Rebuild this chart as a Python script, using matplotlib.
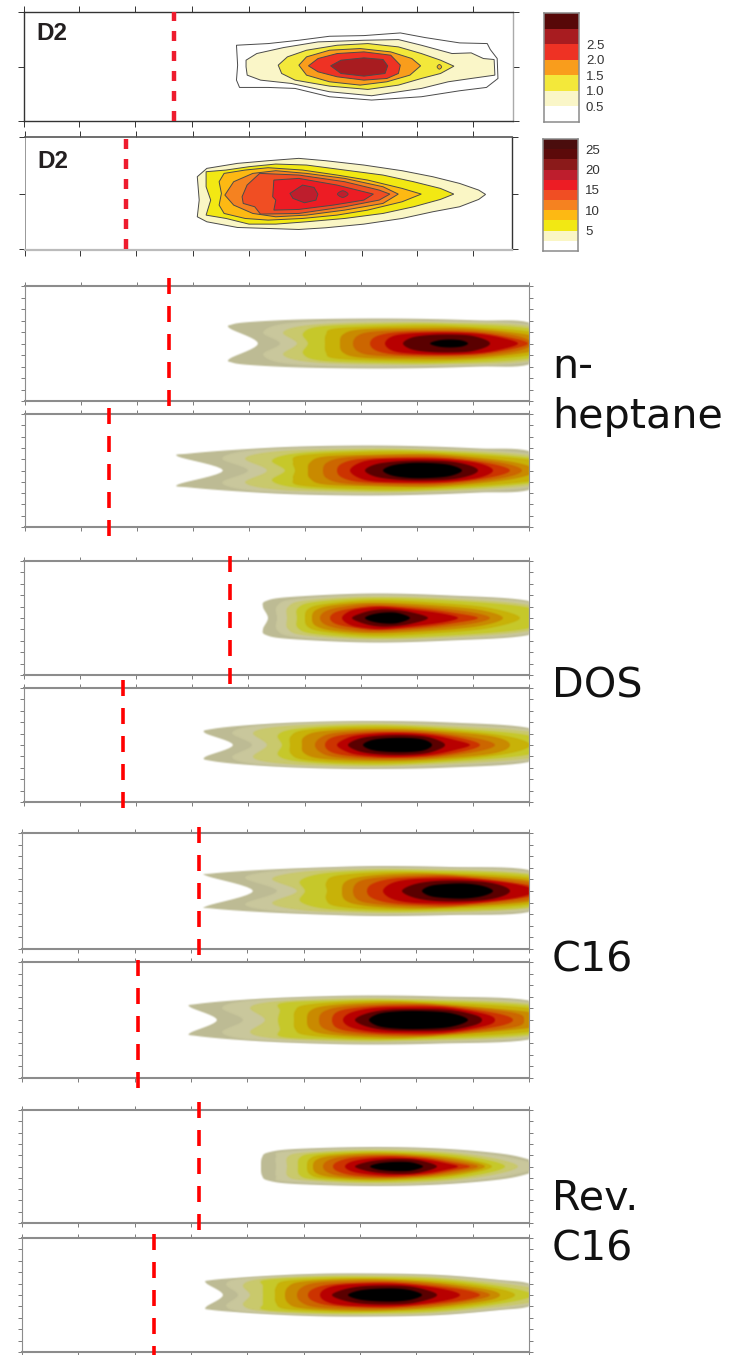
# measured D2 contours on top, simulated plumes below
import matplotlib
matplotlib.use('Agg')
import matplotlib.pyplot as plt
import numpy as np

W, H = 731, 1355

# colourbar levels and colours
levels_a = [0, 0.5, 1.0, 1.5, 2.0, 2.5, 3.0, 3.5]
colors_a = ['#ffffff', '#faf6c8', '#f3e83a', '#f99d1c', '#ee3224', '#a81c20', '#570808']
ticks_a = [0.5, 1.0, 1.5, 2.0, 2.5]
levels_b = [0, 2.5, 5, 7.5, 10, 12.5, 15, 17.5, 20, 22.5, 25, 27.5]
colors_b = ['#ffffff', '#faf6c5', '#f2e813', '#fdb913', '#f58220', '#f04e23', '#ed1c24',
            '#be1e2d', '#8b1a1a', '#5c0a0a', '#4a0d0d']
ticks_b = [5, 10, 15, 20, 25]

# measured contours, closed outlines, outermost first
d2a_colors = ['#ffffff', '#faf6c8', '#f3e83a', '#f99d1c', '#ee3224', '#a81c20']
d2a_contours = [
    [(617, 135), (700, 130), (780, 120), (860, 108), (950, 106), (1045, 98), (1110, 112), (1200, 128), (1272, 130),
     (1280, 148), (1298, 175), (1300, 235), (1270, 262), (1200, 272), (1100, 290), (970, 300), (860, 290), (770, 265),
     (700, 262), (625, 262), (617, 240), (620, 195)],
    [(642, 180), (670, 160), (740, 142), (830, 125), (950, 120), (1040, 118), (1100, 135), (1180, 160), (1230, 158),
     (1262, 175), (1290, 178), (1292, 225), (1230, 235), (1170, 245), (1100, 265), (970, 287), (860, 275), (760, 250),
     (680, 240), (645, 225), (642, 200)],
    [(726, 195), (750, 170), (800, 150), (880, 135), (960, 130), (1040, 140), (1100, 160), (1150, 180), (1185, 198),
     (1150, 220), (1100, 235), (1040, 255), (960, 268), (860, 258), (770, 240), (735, 220)],
    [(780, 195), (800, 170), (860, 150), (940, 145), (1020, 155), (1075, 175), (1098, 197), (1070, 225), (1010, 245),
     (940, 255), (860, 245), (800, 225)],
    [(805, 197), (830, 175), (880, 160), (950, 155), (1020, 165), (1045, 195), (1040, 220), (1010, 235), (950, 240),
     (880, 230), (830, 215)],
    [(863, 197), (890, 180), (950, 173), (1000, 178), (1012, 197), (1005, 220), (950, 228), (890, 220)],
]
d2a_spot = [(1141, 200), (1147, 193), (1153, 200), (1147, 207)]

d2b_colors = ['#faf6c5', '#f2e813', '#fdb913', '#f58220', '#f04e23', '#ed1c24', '#be1e2d']
d2b_contours = [
    [(515, 530), (540, 505), (620, 490), (700, 482), (780, 475), (850, 482), (950, 495), (1050, 512), (1130, 530),
     (1200, 550), (1250, 570), (1268, 583), (1250, 598), (1200, 620), (1130, 635), (1050, 655), (950, 672), (850, 683),
     (780, 688), (700, 685), (620, 682), (540, 665), (515, 650), (520, 600)],
    [(538, 515), (590, 510), (650, 500), (720, 492), (800, 495), (900, 510), (1000, 525), (1080, 545), (1150, 565),
     (1185, 582), (1150, 598), (1080, 620), (1000, 640), (900, 655), (800, 665), (720, 672), (650, 672), (590, 655),
     (538, 645), (550, 600), (538, 560)],
    [(572, 545), (585, 520), (640, 510), (700, 503), (790, 510), (880, 525), (960, 540), (1050, 565), (1100, 582),
     (1050, 605), (960, 630), (880, 645), (790, 655), (700, 660), (640, 655), (585, 640), (572, 615), (578, 580)],
    [(587, 585), (610, 545), (660, 520), (720, 512), (800, 520), (900, 535), (1000, 560), (1040, 582), (1000, 610),
     (900, 630), (800, 645), (720, 650), (660, 640), (610, 615)],
    [(632, 590), (645, 555), (678, 520), (780, 525), (900, 545), (990, 570), (1018, 582), (990, 600), (900, 620),
     (780, 640), (680, 642), (665, 620), (635, 610)],
    [(712, 590), (715, 540), (780, 535), (880, 555), (975, 582), (950, 600), (870, 615), (780, 628), (715, 630),
     (720, 600)],
    [(757, 580), (790, 555), (820, 562), (830, 582), (825, 600), (795, 608), (765, 595)],
]
d2b_spot = [(881, 582), (895, 572), (909, 582), (895, 592)]

# simulated plumes, upper half of each band as (x, half width), outermost first
plume_colors = ['#bdbb94', '#c9c79c', '#c9c96c', '#c6c82a', '#c8b208', '#c98a00', '#cc6600', '#cc3300', '#b80000',
                '#5a0000', '#000000']

heptane_a = [
    [(258, 0), (230, 15), (232, 19), (250, 21.5), (300, 24), (370, 25), (430, 24.5), (480, 23), (529, 21), (560, 0)],
    [(280, 0), (263, 11), (285, 20), (350, 23), (430, 22.5), (529, 19), (560, 0)],
    [(297, 0), (283, 11), (305, 18), (360, 21), (440, 21), (529, 17.5), (570, 0)],
    [(308, 0), (303, 10), (320, 17), (380, 19.5), (450, 19.5), (529, 15), (570, 0)],
    [(325, 0), (326, 9), (335, 15), (390, 17.5), (450, 17.5), (529, 12), (565, 0)],
    [(340, 0), (343, 9), (360, 14), (410, 15.5), (470, 15), (529, 8.5), (545, 0)],
    [(353, 0), (358, 8), (375, 12), (420, 13.5), (470, 13), (515, 8), (532, 0)],
    [(370, 0), (376, 7), (395, 11), (430, 12), (475, 11), (510, 6), (528, 0)],
    [(385, 0), (392, 7), (410, 10), (445, 11), (480, 9.5), (505, 5), (518, 0)],
    [(403, 0), (412, 6), (430, 8.5), (450, 9), (470, 8), (485, 4), (490, 0)],
    [(430, 0), (438, 3), (450, 4), (462, 3), (468, 0)],
]
heptane_b = [
    [(223, 0), (178, 14), (190, 17), (240, 21), (300, 24), (370, 25), (430, 24), (480, 22), (529, 19.5), (565, 0)],
    [(248, 0), (222, 12), (250, 20), (320, 23), (400, 23), (529, 17), (565, 0)],
    [(267, 0), (245, 12), (275, 19), (340, 21.5), (410, 21.5), (529, 15.5), (565, 0)],
    [(285, 0), (272, 10), (295, 17), (350, 20), (420, 20), (529, 13), (560, 0)],
    [(295, 0), (293, 8), (300, 15), (360, 18.5), (430, 18), (529, 11), (555, 0)],
    [(308, 0), (310, 8), (325, 14), (380, 16), (440, 16), (510, 9), (535, 0)],
    [(323, 0), (327, 8), (345, 13), (390, 15), (440, 14.5), (500, 8), (522, 0)],
    [(337, 0), (342, 7), (360, 11.5), (400, 13), (445, 12.5), (490, 7), (510, 0)],
    [(350, 0), (358, 7), (375, 11), (415, 12), (450, 11), (480, 7), (493, 0)],
    [(365, 0), (375, 6), (395, 9), (420, 10), (450, 9), (470, 5), (478, 0)],
    [(383, 0), (392, 5), (410, 7.5), (430, 7.5), (450, 5.5), (462, 0)],
]
dos_a = [
    [(268, 0), (263, 11), (266, 17), (290, 21), (370, 24.5), (450, 22.5), (529, 17), (560, 0)],
    [(277, 0), (277, 12), (295, 19), (370, 23), (450, 21), (529, 15.5), (555, 0)],
    [(287, 0), (288, 11), (305, 17.5), (370, 21.5), (450, 19.5), (529, 13), (550, 0)],
    [(297, 0), (298, 10), (315, 16), (375, 20), (450, 17.5), (525, 11), (545, 0)],
    [(305, 0), (308, 9), (325, 14), (375, 18), (440, 15), (490, 10), (520, 0)],
    [(312, 0), (316, 8), (335, 13), (375, 15.5), (430, 13), (480, 8), (503, 0)],
    [(320, 0), (326, 7), (345, 11.5), (375, 14), (425, 11), (470, 6), (490, 0)],
    [(330, 0), (336, 6), (355, 10), (378, 12), (420, 9.5), (455, 5), (478, 0)],
    [(342, 0), (350, 7), (365, 10), (385, 11), (420, 7.5), (445, 4), (458, 0)],
    [(352, 0), (362, 5), (375, 8), (390, 8.5), (410, 6), (428, 0)],
    [(365, 0), (372, 3.5), (385, 5.5), (398, 5), (410, 0)],
]
dos_b = [
    [(233, 0), (205, 12), (212, 16), (250, 20), (310, 23), (380, 24), (450, 22.5), (529, 17), (560, 0)],
    [(252, 0), (232, 12), (255, 19), (320, 22.5), (390, 22.5), (529, 15.5), (555, 0)],
    [(267, 0), (253, 12), (275, 18), (330, 21), (400, 21), (529, 13.5), (550, 0)],
    [(282, 0), (278, 10), (295, 16), (345, 19.5), (410, 19), (520, 11), (545, 0)],
    [(290, 0), (291, 9), (305, 15), (355, 18), (420, 17), (500, 10), (530, 0)],
    [(302, 0), (304, 8), (320, 13.5), (365, 16), (420, 15), (490, 9), (510, 0)],
    [(315, 0), (320, 7), (335, 12), (375, 14.5), (425, 13.5), (475, 7), (495, 0)],
    [(325, 0), (331, 7), (350, 11), (385, 13), (430, 11.5), (465, 6), (480, 0)],
    [(337, 0), (345, 6), (360, 10), (395, 12), (430, 10), (455, 5), (470, 0)],
    [(348, 0), (358, 6), (375, 9), (400, 10), (425, 8.5), (440, 4), (445, 0)],
    [(363, 0), (372, 5), (390, 7), (410, 7), (425, 5), (432, 0)],
]
c16_a = [
    [(253, 0), (207, 15), (212, 17.5), (260, 21), (320, 23.5), (380, 25), (450, 24), (529, 21), (560, 0)],
    [(277, 0), (245, 13), (275, 20), (340, 23), (400, 23.5), (529, 19.5), (560, 0)],
    [(297, 0), (272, 12), (300, 19), (350, 21.5), (410, 22), (529, 17.5), (560, 0)],
    [(305, 0), (300, 10), (320, 17), (360, 20), (420, 20.5), (529, 16), (560, 0)],
    [(327, 0), (326, 8), (335, 15), (375, 18.5), (430, 18.5), (529, 13.5), (555, 0)],
    [(342, 0), (345, 9), (360, 14), (395, 17), (440, 17), (529, 11), (555, 0)],
    [(353, 0), (358, 9), (375, 13), (410, 15.5), (450, 15.5), (529, 9), (550, 0)],
    [(367, 0), (372, 7), (390, 12), (420, 14), (460, 14), (529, 6), (540, 0)],
    [(383, 0), (390, 7), (405, 11), (430, 12.5), (470, 12), (515, 7), (535, 0)],
    [(402, 0), (412, 6), (430, 9.5), (455, 10.5), (485, 9), (503, 5), (510, 0)],
    [(422, 0), (430, 5), (445, 7), (465, 7.5), (483, 5), (493, 0)],
]
c16_b = [
    [(217, 0), (190, 13), (197, 16), (240, 20), (300, 23), (370, 24.5), (440, 23.5), (529, 19.5), (560, 0)],
    [(243, 0), (222, 12), (245, 19), (310, 22.5), (380, 23), (529, 18), (560, 0)],
    [(265, 0), (250, 12), (270, 18), (325, 21), (390, 21.5), (529, 16.5), (560, 0)],
    [(278, 0), (280, 9), (282, 17), (335, 19.5), (400, 20), (529, 14.5), (555, 0)],
    [(294, 0), (295, 9), (305, 15), (350, 18.5), (410, 18.5), (529, 12), (550, 0)],
    [(307, 0), (310, 9), (325, 14), (365, 17), (420, 17), (529, 8), (537, 0)],
    [(319, 0), (323, 8), (340, 13), (375, 15.5), (430, 15.5), (510, 8), (524, 0)],
    [(332, 0), (337, 8), (355, 12), (390, 14.5), (440, 14), (495, 7), (513, 0)],
    [(343, 0), (350, 7), (370, 11.5), (400, 13), (445, 12.5), (485, 6), (495, 0)],
    [(355, 0), (365, 6), (385, 10), (415, 11), (450, 10), (475, 5), (482, 0)],
    [(369, 0), (378, 6), (395, 8.5), (420, 9), (450, 7), (468, 0)],
]
rev_a = [
    [(261, 0), (262, 9), (268, 14), (295, 17.5), (370, 19.5), (440, 18), (500, 13), (529, 7), (545, 0)],
    [(276, 0), (276, 10), (285, 15), (370, 18.5), (440, 16.5), (495, 11.5), (525, 5.5), (540, 0)],
    [(287, 0), (288, 10), (305, 14), (370, 17), (440, 15), (490, 9), (518, 0)],
    [(298, 0), (300, 9), (315, 13), (370, 15.5), (435, 13.5), (480, 8), (505, 0)],
    [(307, 0), (310, 8), (325, 12), (375, 14), (430, 12), (470, 7), (492, 0)],
    [(313, 0), (317, 7), (335, 11), (380, 13), (430, 10.5), (465, 6), (485, 0)],
    [(323, 0), (328, 6), (345, 10), (385, 11.5), (425, 9.5), (458, 5), (478, 0)],
    [(333, 0), (338, 5), (355, 9), (390, 10.5), (425, 8.5), (452, 4), (470, 0)],
    [(345, 0), (352, 5), (370, 8), (395, 9), (425, 7), (445, 3.5), (458, 0)],
    [(355, 0), (365, 4), (380, 6.5), (400, 7.5), (420, 6), (437, 0)],
    [(370, 0), (378, 3), (392, 4.5), (408, 4.5), (418, 2.5), (423, 0)],
]
rev_b = [
    [(223, 0), (206, 12), (212, 15), (250, 18), (310, 21), (370, 21.5), (440, 20), (500, 15), (529, 11.5), (550, 0)],
    [(238, 0), (226, 11), (245, 17), (310, 20), (370, 20.5), (440, 19), (529, 10), (545, 0)],
    [(250, 0), (243, 10), (260, 16), (315, 19), (375, 19.5), (440, 17.5), (525, 8.5), (540, 0)],
    [(263, 0), (263, 9), (265, 15), (320, 18), (375, 18), (440, 16), (505, 8), (532, 0)],
    [(275, 0), (276, 8), (285, 14), (330, 16.5), (380, 16.5), (440, 14), (495, 7), (515, 0)],
    [(285, 0), (288, 8), (300, 13), (340, 15.5), (385, 15.5), (435, 12.5), (485, 6), (500, 0)],
    [(297, 0), (301, 7), (315, 12), (350, 14), (390, 14), (435, 11), (475, 5), (490, 0)],
    [(308, 0), (313, 6), (330, 10.5), (365, 12.5), (395, 12.5), (430, 9.5), (465, 5), (480, 0)],
    [(320, 0), (325, 6), (340, 10), (370, 11.5), (400, 11), (430, 8), (452, 4), (460, 0)],
    [(332, 0), (342, 5), (360, 8.5), (385, 9.5), (410, 8.5), (430, 4), (437, 0)],
    [(348, 0), (357, 4), (372, 6), (395, 6.5), (412, 4.5), (422, 0)],
]
plumes = [heptane_a, heptane_b, dos_a, dos_b, c16_a, c16_b, rev_a, rev_b]

# ignition positions of the dashed red lines
cut_x = [169, 108.5, 229.5, 123, 199, 138, 199, 153.5]
cut_top = [278, 408, 556, 680, 827, 960, 1102, 1234]
cut_bottom = [406, 536, 684, 808, 955, 1088, 1230, 1355]

# panel boxes in image pixels
panel_top = [286, 414, 561, 688, 833, 962, 1110, 1238]
panel_bottom = [401, 527, 675, 802, 949, 1078, 1223, 1352]
panel_left = [25, 25, 24, 24, 22, 22, 22, 22]
panel_right = 529

labels = ['n-\nheptane', 'DOS', 'C16', 'Rev.\nC16']
label_y = [392, 687, 960, 1224]


def px_axes(left, top, right, bottom):
    return fig.add_axes([left / W, 1 - bottom / H, (right - left) / W, (bottom - top) / H])


def spline_closed(pts, n=8):
    # closed Catmull-Rom through the read points, the plumes are soft in the original
    p = np.array(pts, dtype=float)
    t = np.linspace(0, 1, n, endpoint=False)[:, None, None]
    p0, p2, p3 = np.roll(p, 1, axis=0), np.roll(p, -1, axis=0), np.roll(p, -2, axis=0)
    out = 0.5 * (2 * p + (p2 - p0) * t + (2 * p0 - 5 * p + 4 * p2 - p3) * t ** 2 + (3 * p - p0 - 3 * p2 + p3) * t ** 3)
    return out.transpose(1, 0, 2).reshape(-1, 2)


def soft_edge(img, dpi):
    # small blur on the rendered band, done on premultiplied colour
    pad = 2
    a = np.pad(img, ((pad, pad), (pad, pad), (0, 0)))
    a[..., :3] *= a[..., 3:]
    for axis in (0, 1):
        a = sum(w * np.roll(a, s, axis=axis) for w, s in zip([1, 2, 1], [-1, 0, 1])) / 4
    a[..., :3] /= np.maximum(a[..., 3:], 1e-4)
    return np.clip(a, 0, 1), -pad, -pad


def style_spines(ax, top, bottom, left, right):
    for name, (col, lw) in zip(['top', 'bottom', 'left', 'right'], [top, bottom, left, right]):
        ax.spines[name].set_color(col)
        ax.spines[name].set_linewidth(lw)


fig = plt.figure(figsize=(W / 100, H / 100), dpi=100)

# measured panels
d2_boxes = [(24, 12, 512.5, 121), (25, 137, 512, 249.5)]
d2_xlim = [(62, 1338), (65, 1337)]
d2_ylim = [(363, 35), (748, 411)]
d2_xticks = [[62, 206, 353, 501, 649, 797, 944, 1089, 1236], [65, 208, 355, 503, 650, 797, 944, 1089, 1234]]
d2_center = [201, 582]
d2_cut = [455, 330]
d2_label_y = [0.80, 0.785]
d2_contours = [d2a_contours, d2b_contours]
d2_colors = [d2a_colors, d2b_colors]
d2_spots = [(d2a_spot, '#f3b01c'), (d2b_spot, '#be1e2d')]
d2_spines = [[('#333333', 1.0), ('#333333', 1.0), ('#333333', 1.0), ('#aaaaaa', 1.0)],
             [('#555555', 1.2), ('#bbbbbb', 1.6), ('#888888', 0.6), ('#333333', 1.0)]]
for i in range(2):
    ax = px_axes(*d2_boxes[i])
    ax.set_xlim(*d2_xlim[i])
    ax.set_ylim(*d2_ylim[i])
    for pts, col in zip(d2_contours[i], d2_colors[i]):
        ax.fill(*zip(*pts), facecolor=col, edgecolor='#4a4a4a', linewidth=0.7)
    ax.fill(*zip(*spline_closed(d2_spots[i][0])), facecolor=d2_spots[i][1], edgecolor='#4a4a4a', linewidth=0.6)
    ax.plot([d2_cut[i]] * 2, d2_ylim[i], color='#ee1c2e', lw=3.2, dashes=(10 * 0.72 / 3.2, 10 * 0.72 / 3.2),
            dash_capstyle='butt', clip_on=False, zorder=5)
    ax.text(0.025, d2_label_y[i], 'D2', transform=ax.transAxes, family='Liberation Sans', weight='bold', fontsize=17.5,
            color='#231f20', va='center')
    ax.set_xticks(d2_xticks[i])
    ax.set_yticks([d2_ylim[i][0], d2_center[i], d2_ylim[i][1]])
    ax.tick_params(which='both', top=True, bottom=True, left=True, right=True, labelbottom=False, labelleft=False,
                   length=4.5, width=0.7, color='#333333')
    style_spines(ax, *d2_spines[i])

# colourbars
cb_boxes = [(543.5, 13, 579, 122), (542.5, 139, 578, 251)]
cb_levels = [levels_a, levels_b]
cb_colors = [colors_a, colors_b]
cb_ticks = [ticks_a, ticks_b]
cb_fmt = ['%.1f', '%d']
for i in range(2):
    ax = px_axes(*cb_boxes[i])
    lv = cb_levels[i]
    ax.bar(0, np.diff(lv), bottom=lv[:-1], width=1, color=cb_colors[i])
    ax.set_xlim(-0.5, 0.5)
    ax.set_ylim(lv[0], lv[-1])
    ax.set_xticks([])
    ax.yaxis.tick_right()
    ax.set_yticks(cb_ticks[i], [cb_fmt[i] % t for t in cb_ticks[i]])
    ax.tick_params(axis='y', length=0, pad=5, labelsize=9.5, labelcolor='#333333')
    for label in ax.get_yticklabels():
        label.set_family('Liberation Sans')
    style_spines(ax, *[('#8a8a8a', 1.1)] * 4)

# simulated panels
for i in range(8):
    top, bottom = panel_top[i], panel_bottom[i]
    half = (bottom - top) / 2
    center = (bottom + top) / 2
    ax = px_axes(panel_left[i], top, panel_right, bottom)
    ax.set_xlim(panel_left[i], panel_right)
    ax.set_ylim(half, -half)
    for band, col in zip(plumes[i], plume_colors):
        upper = list(band)
        lower = [(x, -h) for x, h in band[-2:0:-1]]
        patch = ax.fill(*zip(*spline_closed(upper + lower)), color=col, linewidth=0)[0]
        patch.set_agg_filter(soft_edge)
    ax.plot([cut_x[i]] * 2, [cut_top[i] - center, cut_bottom[i] - center], color='#ff0000', lw=2.6,
            dashes=(16 * 0.72 / 2.6, 12 * 0.72 / 2.6), dash_capstyle='butt', clip_on=False, zorder=5)
    ax.set_xticks(panel_left[i] + np.arange(10) * (panel_right - panel_left[i]) / 9)
    ax.set_yticks(np.linspace(-half, half, 11))
    ax.tick_params(top=True, bottom=True, left=True, right=True, labelbottom=False, labelleft=False,
                   length=3, width=0.6, color='#666666')
    style_spines(ax, ('#8c8c8c', 1.5), ('#8c8c8c', 1.5), ('#8c8c8c', 0.8), ('#8c8c8c', 0.8))

for text, y in zip(labels, label_y):
    fig.text(552 / W, 1 - y / H, text, family='DejaVu Sans', fontsize=29.7, color='#111111', va='center', ha='left',
             linespacing=1.33)

fig.savefig('out.png', dpi=100)
